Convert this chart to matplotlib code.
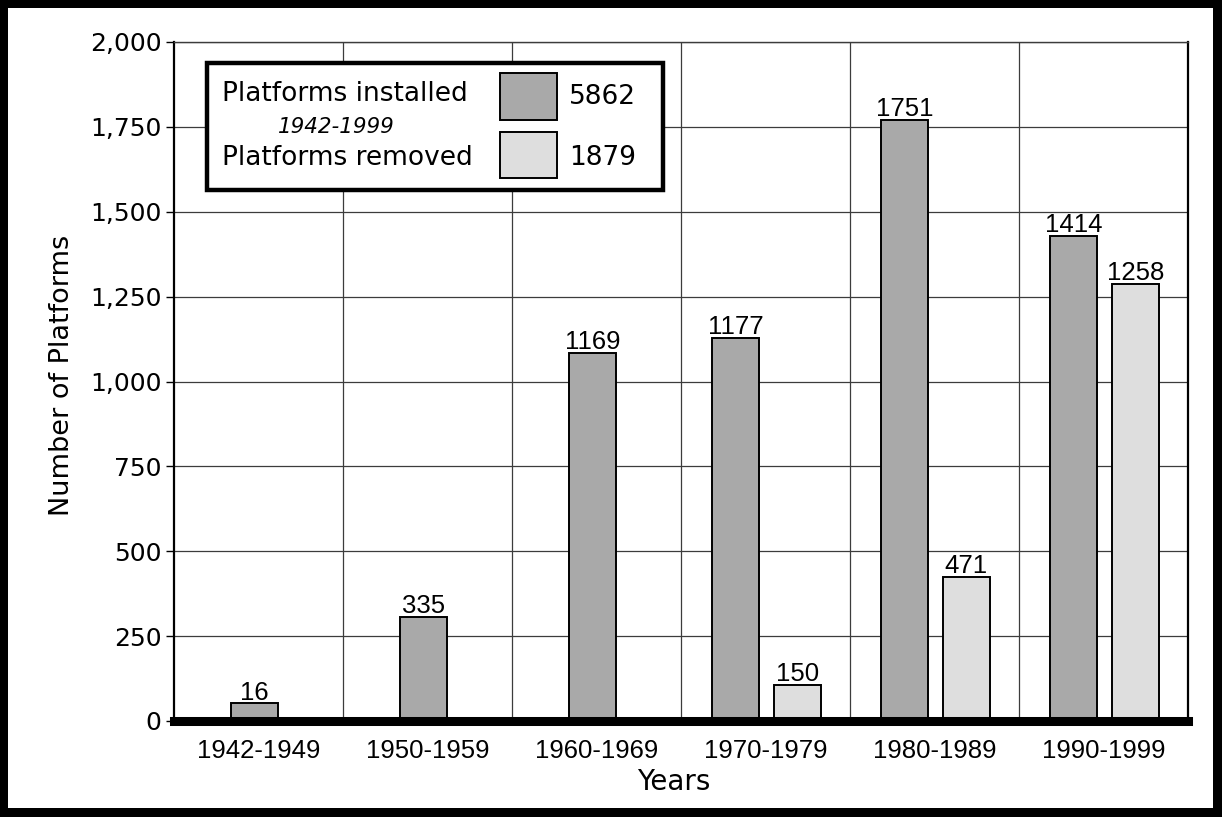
import matplotlib
matplotlib.use("Agg")
import matplotlib.pyplot as plt
from matplotlib.patches import Rectangle
from matplotlib.ticker import FuncFormatter
import numpy as np

# ---- data ----
categories = ["1942-1949", "1950-1959", "1960-1969", "1970-1979", "1980-1989", "1990-1999"]
installed_heights = [52, 306, 1085, 1129, 1771, 1429]          # drawn bar heights
installed_labels = ["16", "335", "1169", "1177", "1751", "1414"]
removed_heights = [None, None, None, 106, 424, 1288]           # drawn bar heights
removed_labels = ["", "", "", "150", "471", "1258"]
legend_names = ["Platforms installed", "Platforms removed"]
legend_totals = ["5862", "1879"]
legend_period = "1942-1999"
y_ticks = [0, 250, 500, 750, 1000, 1250, 1500, 1750, 2000]

C_INST = "#a9a9a9"
C_REM = "#dedede"

W, H = 1222, 817
fig = plt.figure(figsize=(W / 100, H / 100), dpi=100)
fig.patch.set_facecolor("white")

def fx(px):
    return px / W

def fy(py):
    return 1 - py / H

ax_l, ax_r, ax_t, ax_b = 174, 1188, 42, 721
ax = fig.add_axes([fx(ax_l), fy(ax_b), (ax_r - ax_l) / W, (ax_b - ax_t) / H])
ax.set_xlim(0, 6)
ax.set_ylim(0, 2000)

bw = 0.275
LBL_FS = 18.5
LBL_GAP = 11
for i, cat in enumerate(categories):
    c = i + 0.5
    rh = removed_heights[i]
    if rh is None:
        xi = c - 0.025
    else:
        xi = c - 0.177
        xr = c + 0.188
        ax.bar(xr, rh, width=bw, color=C_REM, edgecolor="black", linewidth=1.4, zorder=3)
        ax.text(xr, rh + LBL_GAP, removed_labels[i], ha="center", va="baseline",
                fontsize=LBL_FS, family="Liberation Sans", zorder=4)
    ax.bar(xi, installed_heights[i], width=bw, color=C_INST, edgecolor="black",
           linewidth=1.4, zorder=3)
    ax.text(xi, installed_heights[i] + LBL_GAP, installed_labels[i], ha="center", va="baseline",
            fontsize=LBL_FS, family="Liberation Sans", zorder=4)

# grid
for v in range(1, 6):
    ax.axvline(v, color="#3c3c3c", linewidth=0.9, zorder=1)
for t in y_ticks[1:]:
    ax.axhline(t, color="#3c3c3c", linewidth=0.9, zorder=1)

# baseline
ax.axhline(0, color="black", linewidth=6.5, zorder=5, clip_on=False)

ax.set_xticks([i + 0.5 for i in range(len(categories))])
ax.set_xticklabels(categories, fontsize=18.5, family="Liberation Sans")
ax.tick_params(axis="x", length=0, pad=13)
ax.set_yticks(y_ticks)
ax.yaxis.set_major_formatter(FuncFormatter(lambda v, p: f"{int(v):,}"))
ax.tick_params(axis="y", length=6, width=1, pad=3, labelsize=18)
for lab in ax.get_yticklabels():
    lab.set_family("DejaVu Sans")

for s in ["left", "right"]:
    ax.spines[s].set_color("black")
    ax.spines[s].set_linewidth(1.6)
ax.spines["top"].set_color("#3c3c3c")
ax.spines["top"].set_linewidth(1.0)
ax.spines["bottom"].set_visible(False)

fig.text(fx(674), fy(782), "Years", ha="center", va="center", fontsize=20, family="DejaVu Sans")
fig.text(fx(62), fy(375), "Number of Platforms", ha="center", va="center", rotation=90,
         fontsize=19.5, family="DejaVu Sans")

# legend box (manual)
def frect(x0, y0, x1, y1, **kw):
    r = Rectangle((fx(x0), fy(y1)), fx(x1) - fx(x0), fy(y0) - fy(y1),
                  transform=fig.transFigure, **kw)
    fig.add_artist(r)
    return r

frect(207, 63, 663, 190, facecolor="white", edgecolor="black", linewidth=3.2, zorder=10)
frect(500, 73, 557, 120, facecolor=C_INST, edgecolor="black", linewidth=1.4, zorder=11)
frect(500, 132, 557, 178, facecolor=C_REM, edgecolor="black", linewidth=1.4, zorder=11)
fig.text(fx(222), fy(94), legend_names[0], ha="left", va="center", fontsize=19,
         family="DejaVu Sans", zorder=12)
fig.text(fx(222), fy(158), legend_names[1], ha="left", va="center", fontsize=19,
         family="DejaVu Sans", zorder=12)
fig.text(fx(278), fy(127), legend_period, ha="left", va="center", fontsize=15.5,
         family="DejaVu Sans", style="italic", zorder=12)
fig.text(fx(569), fy(97), legend_totals[0], ha="left", va="center", fontsize=19,
         family="DejaVu Sans", zorder=12)
fig.text(fx(569), fy(158), legend_totals[1], ha="left", va="center", fontsize=19,
         family="DejaVu Sans", zorder=12)

# thick figure border
frect(0, 0, W, 8, facecolor="black", edgecolor="none", zorder=20)
frect(0, 808, W, H, facecolor="black", edgecolor="none", zorder=20)
frect(0, 0, 8, H, facecolor="black", edgecolor="none", zorder=20)
frect(1213, 0, W, H, facecolor="black", edgecolor="none", zorder=20)

fig.savefig("out.png", dpi=100, facecolor="white")
